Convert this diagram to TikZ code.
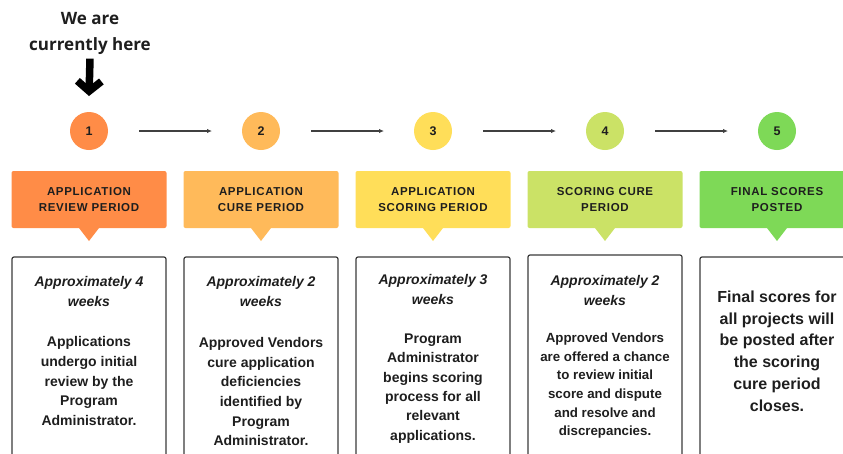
\documentclass[tikz,border=0pt]{standalone}
\usepackage{fontspec}
\setmainfont{Liberation Sans}
\newfontfamily\topfont{Open Sans}
\newfontfamily\hdrfont[LetterSpace=6]{Liberation Sans}
\usetikzlibrary{positioning, arrows.meta}
\definecolor{stepA}{HTML}{FF8C47}
\definecolor{stepB}{HTML}{FFBA5A}
\definecolor{stepC}{HTML}{FFDE59}
\definecolor{stepD}{HTML}{CBE266}
\definecolor{stepE}{HTML}{7ED957}
\definecolor{txtdark}{HTML}{1E1E1E}
\definecolor{boxline}{HTML}{3A3A3A}
\tikzstyle{stepnum} = [circle, minimum size=38pt, inner sep=0pt, outer sep=0pt, font=\bfseries\fontsize{12.5}{13}\selectfont, text=txtdark]
\tikzstyle{header} = [rectangle, rounded corners=2pt, minimum width=155pt, minimum height=57pt, inner sep=0pt, outer sep=0pt, align=center, font=\hdrfont\bfseries\fontsize{11.5}{16}\selectfont, text=txtdark]
\tikzstyle{infobox} = [rectangle, rounded corners=2pt, draw=boxline, line width=1.2pt, minimum width=154pt, minimum height=212pt, outer sep=0pt]
\tikzstyle{dur} = [align=center, inner sep=0pt, font=\bfseries\itshape\fontsize{14}{19.6}\selectfont, text=txtdark]
\tikzstyle{desc} = [align=center, inner sep=0pt, font=\bfseries\fontsize{14}{19.6}\selectfont, text=txtdark]
\tikzstyle{arrow} = [line width=1.1pt, draw=black!75, -{Latex[length=5pt,width=4.5pt]}, shorten <=31pt, shorten >=30pt]
\tikzstyle{bigarrow} = [line width=7.5pt, -{Straight Barb[length=10pt,width=24pt,line join=miter]}]

\begin{document}
\begin{tikzpicture}[x=1pt, y=-1pt]
\useasboundingbox (0,0) rectangle (843,453);
\clip (0,0) rectangle (843,453);

% where we are
\node (here) [align=center, font=\topfont\bfseries\fontsize{17}{26}\selectfont, text=txtdark] at (90,33) {We are\\currently here};

% step circles
\node (c1) [stepnum, fill=stepA] at (89,131) {1};
\node (c2) [stepnum, fill=stepB] at (261,131) {2};
\node (c3) [stepnum, fill=stepC] at (433,131) {3};
\node (c4) [stepnum, fill=stepD] at (605,131) {4};
\node (c5) [stepnum, fill=stepE] at (777,131) {5};

\draw [bigarrow] ([yshift=-1pt]here.south) -- ([yshift=16pt]c1.north);
\draw [arrow] (c1) -- (c2);
\draw [arrow] (c2) -- (c3);
\draw [arrow] (c3) -- (c4);
\draw [arrow] (c4) -- (c5);

% period headers
\node (h1) [header, fill=stepA, below=21pt of c1] {APPLICATION\\REVIEW PERIOD};
\node (h2) [header, fill=stepB, below=21pt of c2] {APPLICATION\\CURE PERIOD};
\node (h3) [header, fill=stepC, below=21pt of c3] {APPLICATION\\SCORING PERIOD};
\node (h4) [header, fill=stepD, below=21pt of c4] {SCORING CURE\\PERIOD};
\node (h5) [header, fill=stepE, below=21pt of c5] {FINAL SCORES\\POSTED};
\fill [stepA] ([xshift=-10pt]h1.south) -- ([xshift=10pt]h1.south) -- ([yshift=-13pt]h1.south) -- cycle;
\fill [stepB] ([xshift=-10pt]h2.south) -- ([xshift=10pt]h2.south) -- ([yshift=-13pt]h2.south) -- cycle;
\fill [stepC] ([xshift=-10pt]h3.south) -- ([xshift=10pt]h3.south) -- ([yshift=-13pt]h3.south) -- cycle;
\fill [stepD] ([xshift=-10pt]h4.south) -- ([xshift=10pt]h4.south) -- ([yshift=-13pt]h4.south) -- cycle;
\fill [stepE] ([xshift=-10pt]h5.south) -- ([xshift=10pt]h5.south) -- ([yshift=-13pt]h5.south) -- cycle;

% detail boxes
\node (b1) [infobox, below=29pt of h1] {};
\node (b2) [infobox, below=29pt of h2] {};
\node (b3) [infobox, below=29pt of h3] {};
\node (b4) [infobox, below=27pt of h4] {};
\node (b5) [infobox, below=29pt of h5] {};

\node (d1) [dur, below=19.4pt of b1.north] {Approximately 4\\weeks};
\node (d2) [dur, below=19.4pt of b2.north] {Approximately 2\\weeks};
\node (d3) [dur, below=17.4pt of b3.north] {Approximately 3\\weeks};
\node (d4) [dur, below=20.4pt of b4.north] {Approximately 2\\weeks};

\node (t1) [desc, below=79.5pt of b1.north] {Applications\\undergo initial\\review by the\\Program\\Administrator.};
\node (t2) [desc, below=80.4pt of b2.north] {Approved Vendors\\cure application\\deficiencies\\identified by\\Program\\Administrator.};
\node (t3) [desc, below=76.4pt of b3.north, font=\bfseries\fontsize{14}{19.4}\selectfont] {Program\\Administrator\\begins scoring\\process for all\\relevant\\applications.};
\node (t4) [desc, below=77.8pt of b4.north, font=\bfseries\fontsize{13.3}{18.6}\selectfont] {Approved Vendors\\are offered a chance\\to review initial\\score and dispute\\and resolve and\\discrepancies.};
\node (t5) [desc, below=33.5pt of b5.north, font=\bfseries\fontsize{16}{21.8}\selectfont] {Final scores for\\all projects will\\be posted after\\the scoring\\cure period\\closes.};

\end{tikzpicture}
\end{document}
